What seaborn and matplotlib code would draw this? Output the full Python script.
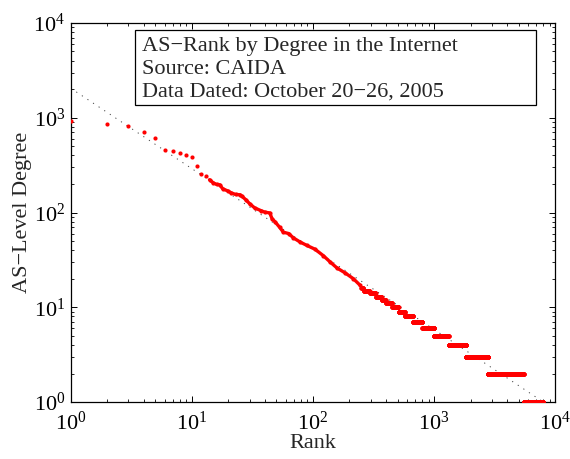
import numpy as np
import pandas as pd
import matplotlib
matplotlib.use("Agg")
import matplotlib.pyplot as plt
from matplotlib.patches import Rectangle
import seaborn as sns

# single high-degree ASes (rank 1..13)
top_rank = [1, 2, 3, 4, 5, 6, 7, 8, 9, 10, 11, 12, 13]
top_degree = [914, 865, 810, 705, 610, 459, 441, 424, 408, 384, 306, 257, 240]

# dense middle part of the curve
mid_rank = [14, 15, 16, 17, 18, 20, 21, 23, 25, 26, 28, 30, 33, 37, 40, 44, 46,
            49, 53, 57, 63, 69, 78, 89, 104, 122, 139, 158, 185, 216, 246]
mid_degree = [222, 206, 198, 196, 178, 168, 162, 155, 154, 148, 136, 124, 112,
              105, 101, 99, 86, 79, 70, 62, 60, 54, 49, 45, 41, 35, 30, 26, 23,
              20, 17]

# low degrees: rank range sharing the same degree
step_degree = [16, 15, 14, 13, 12, 11, 10, 9, 8, 7, 6, 5, 4, 3, 2, 1]
step_first = [250, 262, 295, 330, 370, 400, 450, 510, 575, 670, 800, 1000,
              1320, 1840, 2780, 5480]
step_last = [261, 294, 329, 369, 399, 449, 509, 574, 669, 799, 999, 1319,
             1839, 2779, 5479, 8000]

# power-law fit (dotted)
fit_rank = [1, 8000]
fit_degree = [2050, 1.0]

info_lines = ["AS\u2212Rank by Degree in the Internet",
              "Source: CAIDA",
              "Data Dated: October 20\u221226, 2005"]

sns.set_theme(style="ticks")
plt.rcParams["font.family"] = ["Liberation Serif", "DejaVu Serif"]
plt.rcParams["mathtext.fontset"] = "stix"
plt.rcParams.update({
    "xtick.direction": "in", "ytick.direction": "in",
    "xtick.top": True, "ytick.right": True,
    "xtick.major.size": 4.3, "ytick.major.size": 4.3,
    "xtick.minor.size": 2.0, "ytick.minor.size": 2.0,
    "xtick.major.width": 0.7, "ytick.major.width": 0.7,
    "xtick.minor.width": 0.6, "ytick.minor.width": 0.6,
    "axes.linewidth": 0.9,
    "xtick.color": "black", "ytick.color": "black",
    "axes.edgecolor": "black",
})

steps = pd.concat([pd.DataFrame({"rank": np.arange(a, b + 1), "degree": d})
                   for d, a, b in zip(step_degree, step_first, step_last)])
top = pd.DataFrame({"rank": top_rank, "degree": top_degree})
mid = pd.DataFrame({"rank": mid_rank, "degree": mid_degree})
fit = pd.DataFrame({"rank": fit_rank, "degree": fit_degree})

fig = plt.figure(figsize=(5.7, 4.59), dpi=100)
ax = fig.add_axes([0.124, 0.124, 0.850, 0.826])
ax.set_xscale("log")
ax.set_yscale("log")

sns.lineplot(data=fit, x="rank", y="degree", ax=ax, color="#444444",
             linewidth=0.7, linestyle=(0, (1.2, 5.7)), zorder=1)
sns.lineplot(data=mid, x="rank", y="degree", ax=ax, color="red",
             linewidth=2.4, zorder=2, estimator=None, sort=False)
sns.scatterplot(data=pd.concat([top, mid, steps]), x="rank", y="degree", ax=ax,
                color="red", s=9, linewidth=0, zorder=3)

ax.set_xlim(1, 1e4)
ax.set_ylim(1, 1e4)
ax.tick_params(axis="both", which="major", labelsize=16)
ax.tick_params(axis="x", which="major", pad=7)
ax.tick_params(axis="y", which="major", pad=4)
ax.set_xlabel("Rank", fontsize=16, labelpad=-1)
ax.set_ylabel("AS\u2212Level Degree", fontsize=16, labelpad=1)

ax.add_patch(Rectangle((0.133, 0.783), 0.828, 0.198, transform=ax.transAxes,
                       facecolor="white", edgecolor="black", linewidth=0.9,
                       zorder=4))
for i, line in enumerate(info_lines):
    ax.text(0.147, 0.927 - i * 0.0605, line, transform=ax.transAxes,
            fontsize=16, va="baseline", ha="left", zorder=5)

fig.savefig("out.png", dpi=100)
